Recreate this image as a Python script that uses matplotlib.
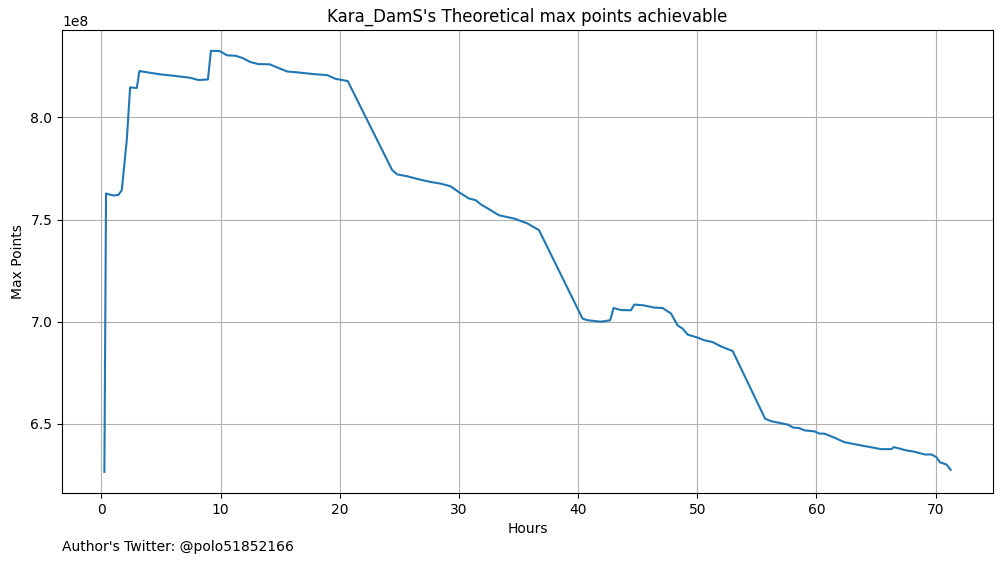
import matplotlib

matplotlib.use("Agg")
import matplotlib.pyplot as plt
import numpy as np

# hours elapsed and theoretical max points (in millions)
hours = [
    0.25, 0.39, 0.59, 1.01, 1.43, 1.71, 2.13, 2.41, 2.97, 3.19,
    3.82, 4.93, 6.34, 7.45, 8.15, 8.94, 9.19, 9.92, 10.54, 11.24,
    11.80, 12.50, 13.19, 14.12, 14.74, 15.58, 16.71, 17.82, 18.95, 19.64,
    20.67, 24.40, 24.82, 25.66, 26.50, 27.62, 28.46, 29.30, 30.00, 30.84,
    31.40, 31.82, 32.66, 33.36, 34.62, 35.75, 36.72, 40.37, 40.79, 41.91,
    42.69, 42.97, 43.59, 44.43, 44.71, 45.50, 46.39, 47.09, 47.79, 48.35,
    48.77, 49.19, 50.03, 50.59, 51.29, 51.99, 52.97, 55.69, 56.19, 57.60,
    58.02, 58.57, 58.99, 59.83, 60.25, 60.67, 61.51, 62.35, 63.76, 64.60,
    65.44, 66.28, 66.50, 67.54, 68.24, 69.08, 69.64, 70.06, 70.34, 70.90,
    71.26,
]
max_points_m = [
    626.5, 762.8, 762.4, 761.8, 762.1, 764.4, 788.9, 814.7, 814.4, 822.7,
    822.1, 821.1, 820.2, 819.4, 818.3, 818.6, 832.6, 832.5, 830.4, 830.2,
    829.2, 827.1, 826.1, 826.0, 824.5, 822.5, 821.9, 821.2, 820.7, 818.9,
    817.8, 774.2, 772.1, 771.2, 769.9, 768.4, 767.6, 766.3, 763.4, 760.3,
    759.5, 757.5, 754.6, 752.1, 750.5, 748.1, 744.8, 701.5, 700.7, 700.0,
    700.7, 706.7, 705.7, 705.6, 708.4, 708.0, 706.9, 706.7, 704.0, 698.2,
    696.6, 693.7, 692.2, 690.9, 690.0, 687.9, 685.6, 652.5, 651.3, 649.6,
    648.2, 647.9, 646.8, 646.3, 645.2, 645.2, 643.2, 641.0, 639.4, 638.5,
    637.6, 637.6, 638.6, 637.0, 636.3, 635.0, 635.0, 633.7, 631.2, 630.1,
    627.5,
]

player = "Kara_DamS"
author = "@polo51852166"

fig = plt.figure(figsize=(10.01, 5.62), dpi=100)
ax = fig.add_axes([0.062, 0.123, 0.930, 0.824])
ax.plot(hours, np.array(max_points_m) * 1e6)
ax.set_title(f"{player}'s Theoretical max points achievable")
ax.set_xlabel("Hours")
ax.set_ylabel("Max Points")
ax.grid(True)
fig.text(0.062, 0.02, f"Author's Twitter: {author}")

fig.savefig("out.png", dpi=100)
